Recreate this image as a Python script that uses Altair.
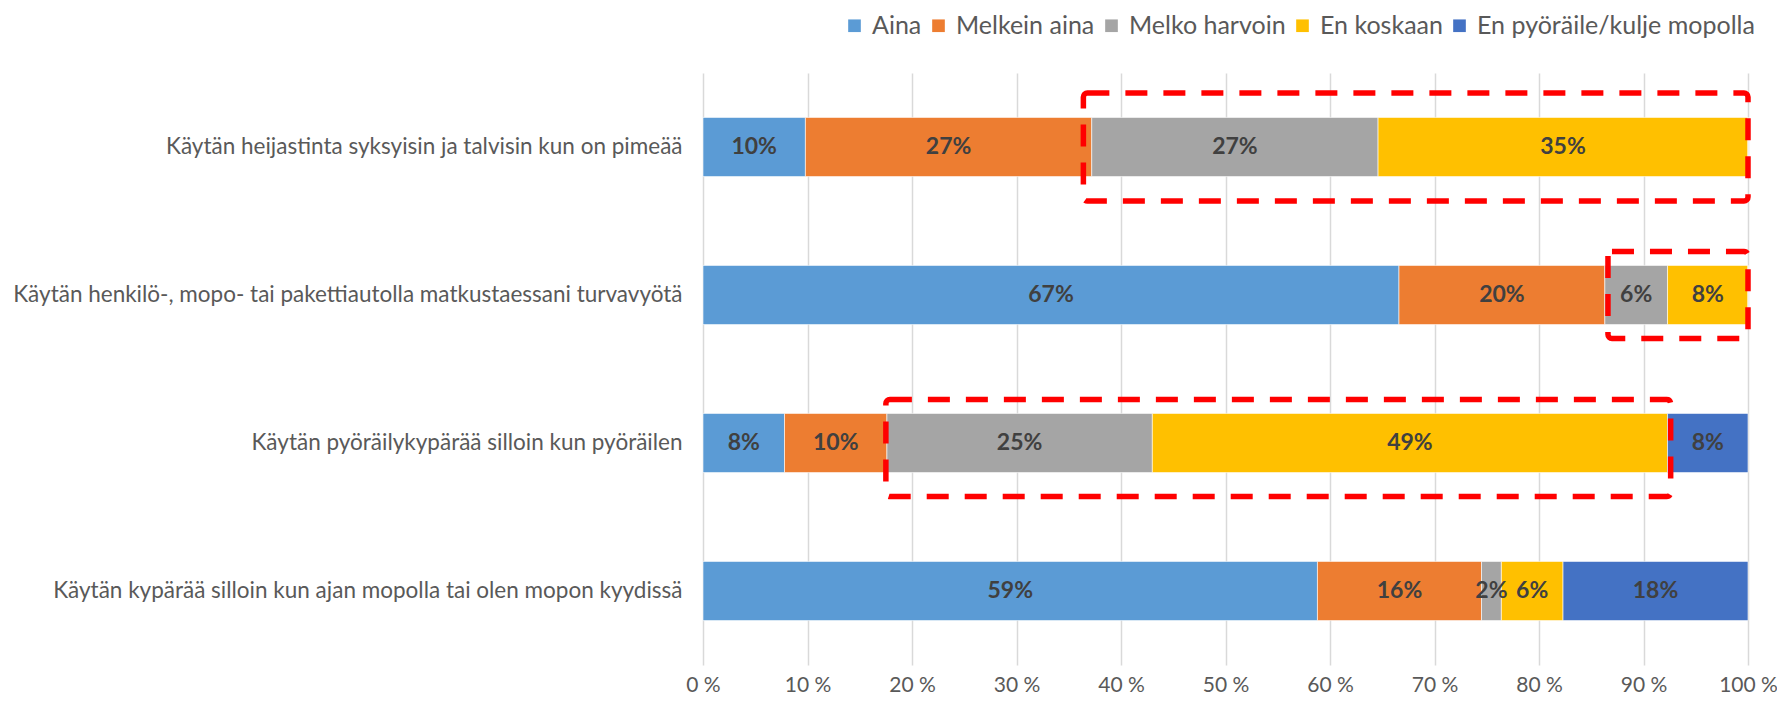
import altair as alt
import pandas as pd

categories = [
    "Käytän heijastinta syksyisin ja talvisin kun on pimeää",
    "Käytän henkilö-, mopo- tai pakettiautolla matkustaessani turvavyötä",
    "Käytän pyöräilykypärää silloin kun pyöräilen",
    "Käytän kypärää silloin kun ajan mopolla tai olen mopon kyydissä",
]
series = ["Aina", "Melkein aina", "Melko harvoin", "En koskaan", "En pyöräile/kulje mopolla"]
aina = [9.8, 66.6, 7.8, 58.8]
melkein_aina = [27.4, 19.7, 9.8, 15.7]
melko_harvoin = [27.4, 6.0, 25.4, 1.9]
en_koskaan = [35.4, 7.7, 49.3, 5.9]
en_pyoraile = [0.0, 0.0, 7.7, 17.7]
colors = ["#5B9BD5", "#ED7D31", "#A5A5A5", "#FFC000", "#4472C4"]
ticks = [0, 10, 20, 30, 40, 50, 60, 70, 80, 90, 100]

# highlighted ranges (red dashed boxes), in percent
box_cats = [categories[0], categories[1], categories[2]]
box_start = [36.4, 86.6, 17.5]
box_end = [100.0, 100.0, 92.6]

values = [aina, melkein_aina, melko_harvoin, en_koskaan, en_pyoraile]
rows = []
for si, (s, vals) in enumerate(zip(series, values)):
    for ci, c in enumerate(categories):
        rows.append({"category": c, "series": s, "order": si, "value": vals[ci]})
df = pd.DataFrame(rows)

FONT = "Lato"
LABEL_COLOR = "#595959"

base = alt.Chart(df).transform_stack(
    stack="value", groupby=["category"], sort=[{"field": "order", "order": "ascending"}],
    as_=["v0", "v1"]
)

y_enc = alt.Y("category:N", sort=categories, title=None,
              scale=alt.Scale(paddingInner=0.6, paddingOuter=0.3),
              axis=alt.Axis(domain=False, ticks=False, labelFontSize=22.5, labelFont=FONT,
                            labelColor=LABEL_COLOR, labelPadding=21, labelLimit=900))

x_scale = alt.Scale(domain=[0, 100], nice=False)

bars = base.mark_bar(stroke="white", strokeWidth=0.6).encode(
    x=alt.X("v0:Q", scale=x_scale, title=None,
            axis=alt.Axis(values=ticks, labelExpr="datum.value + ' %'", domain=False, ticks=False,
                          gridColor="#D9D9D9", gridWidth=1.5, labelFontSize=21, labelFont=FONT,
                          labelColor=LABEL_COLOR, labelPadding=9, labelFlush=False)),
    x2="v1:Q",
    y=y_enc,
    color=alt.Color("series:N", sort=series, scale=alt.Scale(domain=series, range=colors),
                    legend=alt.Legend(title=None, orient="none", direction="horizontal",
                                      legendX=139, legendY=-60, symbolType="square",
                                      symbolSize=160, symbolStrokeWidth=0, labelFontSize=25,
                                      labelFont=FONT, labelColor=LABEL_COLOR, labelOffset=5,
                                      columnPadding=4, labelLimit=500)),
    order=alt.Order("order:Q"),
)

labels = base.transform_filter("datum.value > 0").transform_calculate(
    mid="(datum.v0 + datum.v1) / 2",
    txt="format(datum.value / 100, '.0%')",
).mark_text(font=FONT, fontSize=23, fontWeight="bold", color="#404040").encode(
    x=alt.X("mid:Q", scale=x_scale),
    y=alt.Y("category:N", sort=categories),
    text="txt:N",
)

box_df = pd.DataFrame({"category": box_cats, "start": box_start, "end": box_end})

def box(i, size, yoff):
    return alt.Chart(box_df.iloc[[i]]).mark_bar(
        filled=False, stroke="#FF0000", strokeWidth=5.5, strokeDash=[22, 16],
        size=size, cornerRadius=4, yOffset=yoff
    ).encode(
        x=alt.X("start:Q", scale=x_scale),
        x2="end:Q",
        y=alt.Y("category:N", sort=categories),
    )

chart = alt.layer(bars, labels, box(0, 108, 0), box(1, 87, 0), box(2, 97, 5)).properties(
    width=1045, height=592,
    autosize=alt.AutoSizeParams(type="none"),
    padding={"left": 695, "top": 65, "right": 29, "bottom": 31},
).configure_view(stroke=None)

chart.save("out.html", embed_options={"renderer": "svg", "actions": False})
